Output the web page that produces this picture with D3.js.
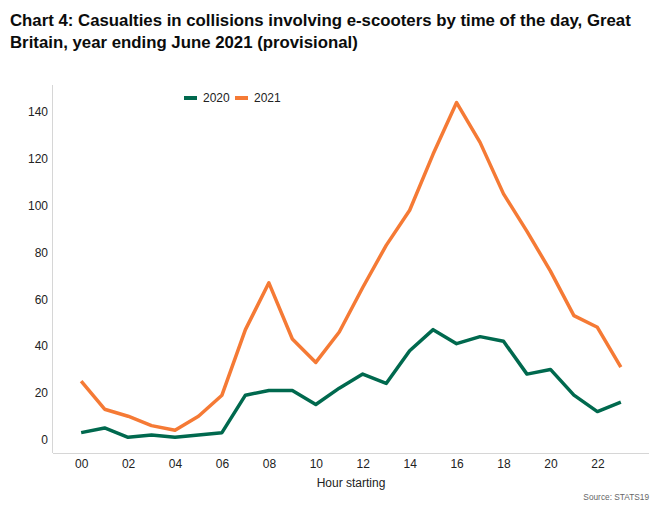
<!DOCTYPE html>
<html>
<head>
<meta charset="utf-8">
<script src="https://cdn.jsdelivr.net/npm/d3@7"></script>
<style>
  body { margin: 0; background: #fff; }
  .axis path { stroke: #d6d6d6; }
  .axis text { font-family: Arial, "Liberation Sans", sans-serif; font-size: 12px; fill: #222; }
</style>
</head>
<body>
<div id="chart"></div>
<script>
// hour of day, casualties
var hours = d3.range(0, 24);
var hourTicks = [0, 2, 4, 6, 8, 10, 12, 14, 16, 18, 20, 22];
var valueTicks = [0, 20, 40, 60, 80, 100, 120, 140];
var series2020 = [3, 5, 1, 2, 1, 2, 3, 19, 21, 21, 15, 22, 28, 24, 38, 47, 41, 44, 42, 28, 30, 19, 12, 16];
var series2021 = [25, 13, 10, 6, 4, 10, 19, 47, 67, 43, 33, 46, 65, 83, 98, 122, 144, 127, 105, 89, 72, 53, 48, 31];
var seriesNames = ['2020', '2021'];
var seriesColours = ['#00694e', '#f57a35'];

var width = 661, height = 514;

var svg = d3.select('#chart')
.append('svg')
.attr('width', width)
.attr('height', height);

// title
var title = svg.append('text')
.attr('font-family', 'Arial, "Liberation Sans", sans-serif')
.attr('font-weight', 'bold')
.attr('font-size', '16.8px')
.attr('fill', '#0b0c0c');

title.append('tspan')
.attr('x', 10)
.attr('y', 26)
.text('Chart 4: Casualties in collisions involving e-scooters by time of the day, Great');

title.append('tspan')
.attr('x', 10)
.attr('y', 48)
.text('Britain, year ending June 2021 (provisional)');

var x = d3.scaleLinear()
.domain([-1.2, 24.2])
.range([53, 649]);

var y = d3.scaleLinear()
.domain([-5.7, 151.5])
.range([453, 85]);

// axes, no tick marks
svg.append('g')
.attr('class', 'axis')
.attr('transform', 'translate(0,' + y.range()[0] + ')')
.call(d3.axisBottom(x)
  .tickValues(hourTicks)
  .tickSize(0)
  .tickPadding(6)
  .tickFormat(d3.format('02')))
.call(function (g) { g.select('.domain').attr('d', 'M' + x.range()[0] + ',0.5H' + x.range()[1]); });

svg.append('g')
.attr('class', 'axis')
.attr('transform', 'translate(' + x.range()[0] + ',0)')
.call(d3.axisLeft(y)
  .tickValues(valueTicks)
  .tickSize(0)
  .tickPadding(5))
.call(function (g) { g.select('.domain').attr('d', 'M-0.5,' + y.range()[1] + 'V' + y.range()[0]); });

svg.selectAll('.axis text').attr('font-family', null).attr('font-size', null);

svg.append('text')
.attr('x', (x.range()[0] + x.range()[1]) / 2)
.attr('y', 487)
.attr('text-anchor', 'middle')
.attr('font-family', 'Arial, "Liberation Sans", sans-serif')
.attr('font-size', '12px')
.attr('fill', '#222')
.text('Hour starting');

svg.append('text')
.attr('x', 649)
.attr('y', 500)
.attr('text-anchor', 'end')
.attr('font-family', 'Arial, "Liberation Sans", sans-serif')
.attr('font-size', '8.3px')
.attr('fill', '#666')
.text('Source: STATS19');

// lines
var line = d3.line()
.x(function (d, i) { return x(hours[i]); })
.y(function (d) { return y(d); });

[series2020, series2021].forEach(function (s, i) {
  svg.append('path')
  .datum(s)
  .attr('fill', 'none')
  .attr('stroke', seriesColours[i])
  .attr('stroke-width', 3.5)
  .attr('stroke-linejoin', 'round')
  .attr('d', line);
});

// legend
var legend = svg.append('g')
.attr('transform', 'translate(184,98)');

var item = legend.selectAll('g')
.data(seriesNames)
.enter()
.append('g')
.attr('transform', function (d, i) { return 'translate(' + (i * 51) + ',0)'; });

item.append('line')
.attr('x1', 0)
.attr('x2', 13)
.attr('stroke', function (d, i) { return seriesColours[i]; })
.attr('stroke-width', 4);

item.append('text')
.attr('x', 19)
.attr('dy', '0.35em')
.attr('font-family', 'Arial, "Liberation Sans", sans-serif')
.attr('font-size', '12px')
.attr('fill', '#222')
.text(function (d) { return d; });
</script>
</body>
</html>
